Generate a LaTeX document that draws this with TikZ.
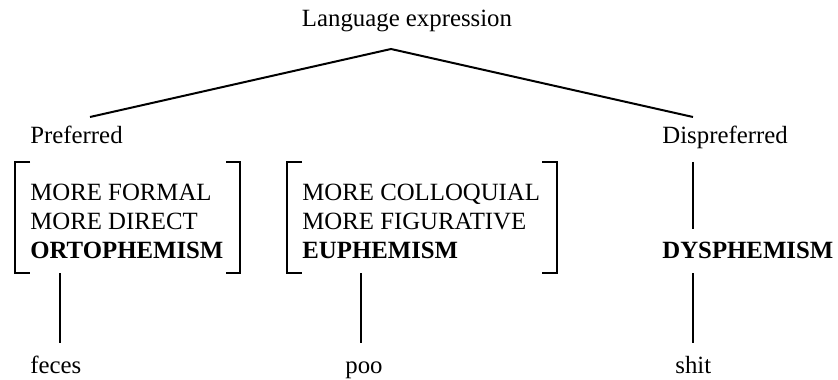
\documentclass[tikz,border=0pt]{standalone}
\usepackage{fontspec}
\setmainfont{Liberation Serif}
\begin{document}
\begin{tikzpicture}[x=0.5pt,y=-0.5pt,
  txt/.style={inner sep=0pt,anchor=base west,font=\fontsize{12.4}{14.5}\selectfont},
  btxt/.style={txt,font=\fontsize{12.4}{14.5}\selectfont\bfseries},
  ln/.style={line width=1pt},
  brk/.style={line width=1pt}]
\useasboundingbox (0,0) rectangle (838,379);

% top label and the two branches
\node[txt,anchor=base] (lang) at (407,27) {Language expression};
\coordinate (apex) at (391,49);
\coordinate (lend) at (90,117);
\coordinate (rend) at (693,117);
\draw[ln] (lend) -- (apex) -- (rend);

\node[txt] (pref) at (30,144) {Preferred};
\node[txt] (dispref) at (662,144) {Dispreferred};

% first bracketed group
\node[txt] (f1) at (30,200) {MORE FORMAL};
\node[txt] (f2) at (30,229) {MORE DIRECT};
\node[btxt] (orto) at (30,258) {ORTOPHEMISM};
\draw[brk] (30,162) -- (15,162) -- (15,273) -- (30,273);
\draw[brk] (226,162) -- (240,162) -- (240,273) -- (226,273);

% second bracketed group
\node[txt] (c1) at (302,200) {MORE COLLOQUIAL};
\node[txt] (c2) at (302,229) {MORE FIGURATIVE};
\node[btxt] (eu) at (302,258) {EUPHEMISM};
\draw[brk] (302,162) -- (287,162) -- (287,273) -- (302,273);
\draw[brk] (542,162) -- (557,162) -- (557,273) -- (542,273);

% dysphemism column
\node[btxt] (dys) at (662,258) {DYSPHEMISM};
\coordinate (d1) at (693,162);
\coordinate (d2) at (693,229);
\draw[ln] (d1) -- (d2);

% examples
\node[txt] (feces) at (30,373) {feces};
\node[txt] (poo) at (345,373) {poo};
\node[txt] (shit) at (675,373) {shit};

\coordinate (a1) at (60,273);  \coordinate (a2) at (60,343);
\coordinate (b1) at (361,273); \coordinate (b2) at (361,343);
\coordinate (e1) at (693,273); \coordinate (e2) at (693,343);
\draw[ln] (a1) -- (a2);
\draw[ln] (b1) -- (b2);
\draw[ln] (e1) -- (e2);
\end{tikzpicture}
\end{document}
